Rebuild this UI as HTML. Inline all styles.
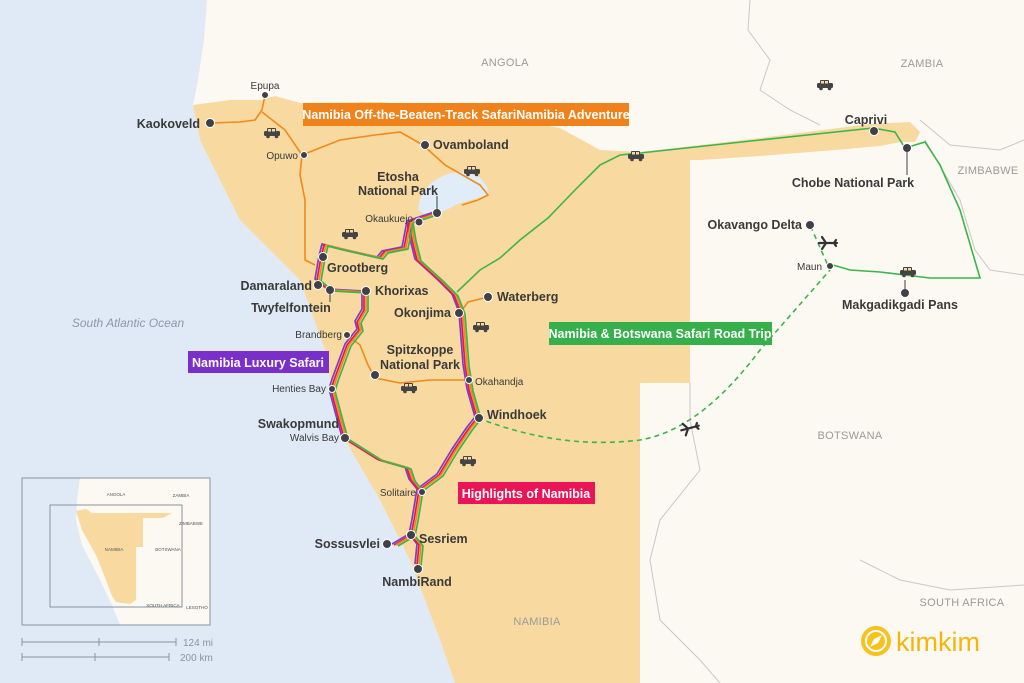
<!DOCTYPE html>
<html><head><meta charset="utf-8"><style>
html,body{margin:0;padding:0;width:1024px;height:683px;overflow:hidden;background:#fcf9f2}
svg{display:block}
text{font-family:"Liberation Sans",sans-serif}
.b{font-weight:bold;fill:#3a3a3a;font-size:12.5px}
.s{fill:#3a3a3a;font-size:10px}
.c{fill:#9a9a9a;font-size:11px;letter-spacing:.3px}
.lg{fill:#fff;font-weight:bold;font-size:12.5px}
</style></head><body>
<svg width="1024" height="683" viewBox="0 0 1024 683" xmlns="http://www.w3.org/2000/svg">
<defs>
<g id="car"><rect x="-8" y="-3" width="16" height="5" rx="1.5" fill="#444"/><rect x="-5" y="-6" width="9" height="4" rx="1" fill="#444"/><rect x="-4" y="-5" width="3" height="2.5" fill="#f8d9a0"/><rect x="0" y="-5" width="3" height="2.5" fill="#f8d9a0"/><circle cx="-4" cy="2.5" r="1.8" fill="#444"/><circle cx="4.5" cy="2.5" r="1.8" fill="#444"/></g>
<g id="plane"><path d="M-9 0 L9 0 M-2 0 L-6 -6 M-2 0 L-6 6 M6 0 L8 -3 M6 0 L8 3" stroke="#333" stroke-width="2.2" fill="none" stroke-linecap="round"/></g>
<g id="r" fill="none" stroke-width="1.7" stroke-linejoin="round">
<path d="M437 213 L410 222 L405 248 L385 252 L380 258 L345 250 L325 245 L322 257 L318 280 L330 290 L365 292 L365 310 L358 322 L360 330 L348 345 L335 380 L332 390 L340 420 L345 438 L380 460 L408 468 L412 480 L420 490 L415 520 L412 535 L395 545 M412 535 L420 545 L418 565 M420 490 L440 475 L455 450 L470 428 L478 418 L470 390 L466 365 L462 313 L455 295 L440 280 L418 260 L413 240 L410 222"/>
</g>
</defs>
<path d="M0 0 L207 0 L204 40 L198 80 L193 105 L200 140 L240 220 L300 280 L325 350 L332 390 L345 440 L380 500 L410 560 L440 640 L455 683 L0 683 Z" fill="#dfeaf6"/>
<g stroke="#c8c8c8" stroke-width="1" fill="none">
<path d="M750 0 L748 30 L770 60 L760 90 L790 110 L820 125"/>
<path d="M920 120 L950 145 L1000 150 L1024 140"/>
<path d="M925 140 L960 200 L975 250 L990 270 L1024 275"/>
<path d="M690 383 L690 420 L700 470 L660 520 L650 560 L660 620 L700 660 L720 683"/>
<path d="M860 560 L900 580 L950 590 L1024 585"/>
</g>
<path d="M193 105 L230 100 L262 100 L275 96 L300 103 L380 102 L470 112 L560 128 L600 150 L640 152 L760 138 L870 124 L910 122 L920 132 L915 142 L900 142 L880 146 L835 150 L760 156 L700 160 L690 160 L690 383 L640 383 L640 683 L455 683 L440 640 L410 560 L380 500 L345 440 L332 390 L325 350 L300 280 L240 220 L200 140 Z" fill="#f8d9a0"/>
<path d="M418 210 Q420 185 445 175 Q465 168 480 178 Q490 188 488 195 Q470 200 455 205 Q440 215 425 215 Z" fill="#e0ecf7"/>
<g stroke="#f08a1c" stroke-width="1.6" fill="none">
<path d="M210 123 L240 122 L255 120 L262 110 L265 95"/>
<path d="M262 112 L285 130 L302 155 L340 140 L375 135 L400 132 L423 145 L445 165 L480 185 L488 195 L478 200 L462 205"/>
<path d="M302 155 L300 175 L305 200 L305 260 L315 265"/>
<path d="M488 297 L468 302 L462 310"/>
<path d="M347 335 L360 345 L368 365 L375 378 L400 383 L430 380 L470 380"/>
</g>
<g stroke="#3bb54a" stroke-width="1.6" fill="none">
<path d="M457 292 L480 270 L500 258 L520 240 L548 218 L575 190 L600 165 L620 155 L640 153 L760 140 L873 128 L895 132 L905 148 L915 145 L925 142 L940 165 L960 210 L980 278 L930 278 L905 275 L880 272 L850 270 L833 265"/>
</g>
<path d="M478 418 Q560 450 640 440 Q700 430 760 350 L830 270 L810 225" stroke="#3bb54a" stroke-width="1.6" fill="none" stroke-dasharray="5,4"/>
<use href="#r" stroke="#7b3fc7" transform="translate(-3,-1)"/>
<use href="#r" stroke="#e8174f" transform="translate(-1,0)"/>
<use href="#r" stroke="#f08a1c" transform="translate(1,0)"/>
<use href="#r" stroke="#3bb54a" transform="translate(3,1)"/>
<use href="#car" x="272" y="134"/><use href="#car" x="472" y="172"/><use href="#car" x="350" y="235"/><use href="#car" x="481" y="328"/><use href="#car" x="409" y="389"/><use href="#car" x="468" y="462"/><use href="#car" x="636" y="157"/><use href="#car" x="825" y="86"/><use href="#car" x="908" y="273"/>
<use href="#plane" x="828" y="243"/><use href="#plane" transform="translate(690,428) rotate(-15)"/>
<g fill="#404048" stroke="#fff" stroke-width="1">
<circle cx="210" cy="123" r="4.5"/><circle cx="265" cy="95" r="3.5"/><circle cx="304" cy="155" r="3.5"/><circle cx="425" cy="145" r="4.5"/><circle cx="437" cy="213" r="4.5"/><circle cx="419" cy="222" r="4"/><circle cx="323" cy="257" r="4.5"/><circle cx="318" cy="285" r="4.5"/><circle cx="330" cy="290" r="4.5"/><circle cx="366" cy="291" r="4.5"/><circle cx="347" cy="335" r="3.5"/><circle cx="375" cy="375" r="4.5"/><circle cx="459" cy="313" r="4.5"/><circle cx="488" cy="297" r="4.5"/><circle cx="469" cy="380" r="3.5"/><circle cx="479" cy="418" r="4.5"/><circle cx="332" cy="389" r="3.5"/><circle cx="345" cy="438" r="4.5"/><circle cx="422" cy="492" r="3.5"/><circle cx="411" cy="535" r="4.5"/><circle cx="387" cy="544" r="4.5"/><circle cx="418" cy="569" r="4.5"/><circle cx="874" cy="131" r="4.5"/><circle cx="907" cy="148" r="4.5"/><circle cx="810" cy="225" r="4.5"/><circle cx="830" cy="266" r="3.5"/><circle cx="905" cy="293" r="4.5"/>
</g>
<g stroke="#404048" stroke-width="1"><line x1="437" y1="196" x2="437" y2="210"/><line x1="330" y1="293" x2="330" y2="302"/><line x1="907" y1="150" x2="907" y2="175"/><line x1="905" y1="280" x2="905" y2="292"/></g>
<text class="b" x="200" y="128" text-anchor="end">Kaokoveld</text>
<text class="s" x="265" y="89" text-anchor="middle">Epupa</text>
<text class="s" x="298" y="159" text-anchor="end">Opuwo</text>
<text class="b" x="433" y="149">Ovamboland</text>
<text class="b" x="398" y="181" text-anchor="middle">Etosha</text>
<text class="b" x="398" y="195" text-anchor="middle">National Park</text>
<text class="s" x="413" y="222" text-anchor="end">Okaukuejo</text>
<text class="b" x="327" y="272">Grootberg</text>
<text class="b" x="312" y="290" text-anchor="end">Damaraland</text>
<text class="b" x="291" y="312" text-anchor="middle">Twyfelfontein</text>
<text class="b" x="375" y="295">Khorixas</text>
<text class="s" x="342" y="338" text-anchor="end">Brandberg</text>
<text class="b" x="420" y="354" text-anchor="middle">Spitzkoppe</text>
<text class="b" x="420" y="369" text-anchor="middle">National Park</text>
<text class="b" x="451" y="317" text-anchor="end">Okonjima</text>
<text class="b" x="497" y="301">Waterberg</text>
<text class="s" x="475" y="385">Okahandja</text>
<text class="b" x="487" y="419">Windhoek</text>
<text class="s" x="326" y="392" text-anchor="end">Henties Bay</text>
<text class="b" x="339" y="428" text-anchor="end">Swakopmund</text>
<text class="s" x="339" y="441" text-anchor="end">Walvis Bay</text>
<text class="s" x="416" y="496" text-anchor="end">Solitaire</text>
<text class="b" x="419" y="543">Sesriem</text>
<text class="b" x="380" y="548" text-anchor="end">Sossusvlei</text>
<text class="b" x="417" y="586" text-anchor="middle">NambiRand</text>
<text class="b" x="866" y="124" text-anchor="middle">Caprivi</text>
<text class="b" x="853" y="187" text-anchor="middle">Chobe National Park</text>
<text class="b" x="802" y="229" text-anchor="end">Okavango Delta</text>
<text class="s" x="822" y="270" text-anchor="end">Maun</text>
<text class="b" x="900" y="309" text-anchor="middle">Makgadikgadi Pans</text>
<text class="c" x="505" y="66" text-anchor="middle">ANGOLA</text>
<text class="c" x="922" y="67" text-anchor="middle">ZAMBIA</text>
<text class="c" x="988" y="174" text-anchor="middle">ZIMBABWE</text>
<text class="c" x="850" y="439" text-anchor="middle">BOTSWANA</text>
<text class="c" x="962" y="606" text-anchor="middle">SOUTH AFRICA</text>
<text class="c" x="537" y="625" text-anchor="middle">NAMIBIA</text>
<text x="128" y="327" text-anchor="middle" font-style="italic" font-size="12" fill="#8a9aa8">South Atlantic Ocean</text>
<rect x="303" y="103" width="326" height="23" fill="#f0821c"/><text class="lg" x="466" y="119" text-anchor="middle">Namibia Off-the-Beaten-Track SafariNamibia Adventure</text>
<rect x="188" y="351" width="141" height="22" fill="#7b2fc9"/><text class="lg" x="258" y="367" text-anchor="middle">Namibia Luxury Safari</text>
<rect x="549" y="322" width="223" height="23" fill="#35b04a"/><text class="lg" x="660" y="338" text-anchor="middle">Namibia &amp; Botswana Safari Road Trip</text>
<rect x="458" y="482" width="137" height="22" fill="#ea1556"/><text class="lg" x="526" y="498" text-anchor="middle">Highlights of Namibia</text>
<rect x="22" y="478" width="188" height="147" fill="#fcf9f2" stroke="#8894a0"/>
<path d="M22 478 L80 478 L77 500 L76 520 L82 545 L100 580 L112 605 L120 625 L22 625 Z" fill="#dfeaf6"/>
<path d="M76 511 L86 509 L92 513 L143 513 L143 547 L136 547 L136 600 L130 604 L116 602 L112 596 L106 580 L96 555 L82 530 Z" fill="#f8d9a0"/>
<path d="M143 513 L172 513 L163 518 L143 518 Z" fill="#f8d9a0"/>
<rect x="22" y="478" width="188" height="147" fill="none" stroke="#8894a0"/>
<rect x="50" y="505" width="132" height="102" fill="none" stroke="#8894a0"/>
<g font-size="4.5" fill="#555" text-anchor="middle"><text x="116" y="496">ANGOLA</text><text x="181" y="497">ZAMBIA</text><text x="191" y="525">ZIMBABWE</text><text x="114" y="551">NAMIBIA</text><text x="168" y="551">BOTSWANA</text><text x="163" y="607">SOUTH AFRICA</text><text x="197" y="609">LESOTHO</text></g>
<g stroke="#8894a0" stroke-width="1"><path d="M22 642 L176 642 M22 638 L22 646 M99 638 L99 646 M176 638 L176 646"/><path d="M22 657 L169 657 M22 653 L22 661 M95 653 L95 661 M169 653 L169 661"/></g>
<text x="183" y="646" font-size="10" fill="#8894a0">124 mi</text>
<text x="180" y="661" font-size="10" fill="#8894a0">200 km</text>
<circle cx="876" cy="641" r="15" fill="#f7c21c"/><circle cx="876" cy="641" r="10" fill="none" stroke="#fff" stroke-width="2"/><path d="M870 647 L874 639 L882 635 L878 643 Z" fill="#fff"/>
<text x="896" y="651" font-size="27" fill="#f5b50c">kimkim</text>
</svg>
</body></html>
